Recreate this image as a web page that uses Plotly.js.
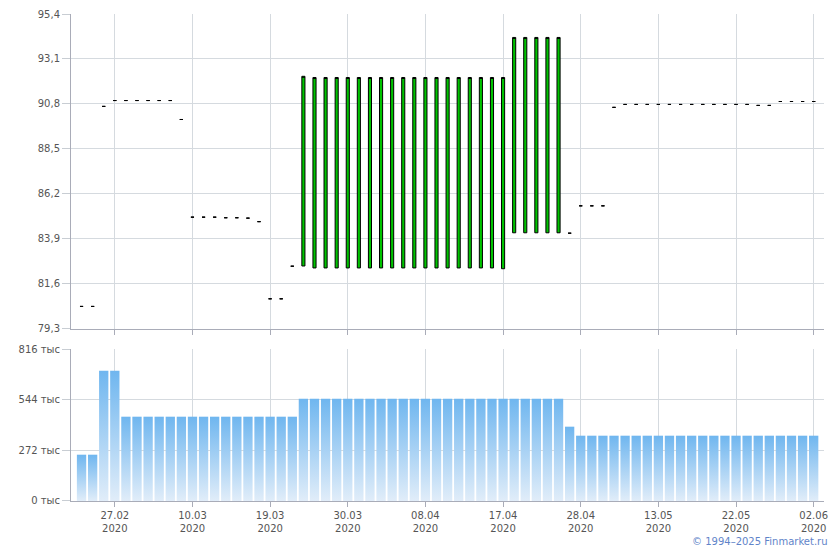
<!DOCTYPE html>
<html>
<head>
<meta charset="utf-8">
<script src="https://cdn.plot.ly/plotly-3.0.1.min.js"></script>
<style>html,body{margin:0;padding:0;background:#fff;}#chart{width:840px;height:550px;}</style>
</head>
<body>
<div id="chart"></div>
<script>
var dates = ["21.02.2020","25.02.2020","26.02.2020","27.02.2020","28.02.2020",
"02.03.2020","03.03.2020","04.03.2020","05.03.2020","06.03.2020","10.03.2020","11.03.2020","12.03.2020","13.03.2020",
"16.03.2020","17.03.2020","18.03.2020","19.03.2020","20.03.2020","23.03.2020","24.03.2020","25.03.2020","26.03.2020",
"27.03.2020","30.03.2020","31.03.2020","01.04.2020","02.04.2020","03.04.2020","06.04.2020","07.04.2020","08.04.2020",
"09.04.2020","10.04.2020","13.04.2020","14.04.2020","15.04.2020","16.04.2020","17.04.2020","20.04.2020","21.04.2020",
"22.04.2020","23.04.2020","24.04.2020","27.04.2020","28.04.2020","29.04.2020","30.04.2020","06.05.2020","07.05.2020",
"08.05.2020","12.05.2020","13.05.2020","14.05.2020","15.05.2020","18.05.2020","19.05.2020","20.05.2020","21.05.2020",
"22.05.2020","25.05.2020","26.05.2020","27.05.2020","28.05.2020","29.05.2020","01.06.2020","02.06.2020"];

var openP = [80.43,80.43,90.67,90.97,90.97,90.97,90.97,90.97,90.97,90.0,85.0,85.0,85.0,84.97,84.97,84.95,84.77,80.82,80.82,82.49,
82.5,82.4,82.4,82.4,82.4,82.4,82.4,82.4,82.4,82.4,82.4,82.4,82.4,82.4,82.4,82.4,82.4,82.4,82.36,
84.2,84.2,84.2,84.2,84.2,84.18,85.58,85.58,85.58,90.62,
90.77,90.77,90.77,90.77,90.77,90.77,90.77,90.77,90.77,90.77,90.77,90.77,90.72,90.72,90.92,90.92,90.92,90.92];
var closeP = [80.43,80.43,90.67,90.97,90.97,90.97,90.97,90.97,90.97,90.0,85.0,85.0,85.0,84.97,84.97,84.95,84.77,80.82,80.82,82.49,
92.21,92.15,92.15,92.15,92.15,92.15,92.15,92.15,92.15,92.15,92.15,92.15,92.15,92.15,92.15,92.15,92.15,92.15,92.15,
94.2,94.2,94.2,94.2,94.2,84.18,85.58,85.58,85.58,90.62,
90.77,90.77,90.77,90.77,90.77,90.77,90.77,90.77,90.77,90.77,90.77,90.77,90.72,90.72,90.92,90.92,90.92,90.92];
var highP = closeP.slice();
var lowP = openP.slice();

var volume = [248600,248600,699500,699500,
452600,452600,452600,452600,452600,452600,452600,452600,452600,452600,452600,452600,452600,452600,452600,452600,
549000,549000,549000,549000,549000,549000,549000,549000,549000,549000,549000,549000,549000,549000,549000,549000,
549000,549000,549000,549000,549000,549000,549000,549000,
399000,
350600,350600,350600,350600,350600,350600,350600,350600,350600,350600,350600,350600,350600,350600,350600,350600,
350600,350600,350600,350600,350600,350600];

var tickDates = ["27.02.2020","10.03.2020","19.03.2020","30.03.2020","08.04.2020","17.04.2020","28.04.2020","13.05.2020","22.05.2020","02.06.2020"];
var tickLabels = ["27.02<br>2020","10.03<br>2020","19.03<br>2020","30.03<br>2020","08.04<br>2020","17.04<br>2020","28.04<br>2020","13.05<br>2020","22.05<br>2020","02.06<br>2020"];
var priceTicks = [79.3,81.6,83.9,86.2,88.5,90.8,93.1,95.4];
var priceTickText = ["79,3","81,6","83,9","86,2","88,5","90,8","93,1","95,4"];
var volTicks = [0,272000,544000,816000];
var volTickText = ["0 тыс","272 тыс","544 тыс","816 тыс"];

var gridC = '#d5dadf', axisC = '#a9acb8';

var candle = {
  type: 'candlestick', x: dates, open: openP, high: highP, low: lowP, close: closeP,
  xaxis: 'x', yaxis: 'y', whiskerwidth: 0,
  increasing: {line: {color: '#000', width: 1}, fillcolor: '#00c400'},
  decreasing: {line: {color: '#000', width: 1}, fillcolor: '#00c400'},
  hoverinfo: 'skip', showlegend: false
};
var vol = {
  type: 'bar', x: dates, y: volume, xaxis: 'x2', yaxis: 'y2',
  marker: {color: '#8ec4f2', line: {width: 0}}, hoverinfo: 'skip', showlegend: false
};

var xcommon = {
  type: 'category', range: [-0.95, 66.93], tickmode: 'array', tickvals: tickDates, ticktext: tickLabels,
  showgrid: true, gridcolor: gridC, gridwidth: 1, showline: true, linecolor: axisC, linewidth: 1,
  ticks: 'outside', ticklen: 5, tickcolor: axisC, fixedrange: true, zeroline: false
};

var layout = {
  width: 840, height: 550,
  margin: {l: 71, r: 16, t: 14, b: 49},
  paper_bgcolor: '#fff', plot_bgcolor: '#fff',
  font: {family: 'DejaVu Sans, Verdana, sans-serif', size: 10, color: '#555'},
  boxgap: 0.72, boxgroupgap: 0, bargap: 0.16,
  showlegend: false,
  xaxis: Object.assign({}, xcommon, {anchor: 'y', showticklabels: false, rangeslider: {visible: false}}),
  xaxis2: Object.assign({}, xcommon, {anchor: 'y2', matches: 'x', showticklabels: true, rangeslider: {visible: false}}),
  yaxis: {
    domain: [0.3542, 1], range: [79.3, 95.4], tickmode: 'array', tickvals: priceTicks, ticktext: priceTickText,
    showgrid: true, gridcolor: gridC, showline: true, linecolor: axisC, ticks: 'outside', ticklen: 8,
    tickcolor: '#c8cdd3', zeroline: false, fixedrange: true
  },
  yaxis2: {
    domain: [0, 0.3121], range: [0, 816000], tickmode: 'array', tickvals: volTicks, ticktext: volTickText,
    showgrid: true, gridcolor: gridC, showline: true, linecolor: axisC, ticks: 'outside', ticklen: 8,
    tickcolor: '#c8cdd3', zeroline: false, fixedrange: true
  },
  annotations: [{
    text: '© 1994–2025 Finmarket.ru', xref: 'paper', yref: 'paper', x: 1.008, y: -0.084,
    xanchor: 'right', yanchor: 'middle', showarrow: false,
    font: {family: 'DejaVu Sans, Verdana, sans-serif', size: 10, color: '#5f84c9'}
  }]
};

Plotly.newPlot('chart', [candle, vol], layout, {staticPlot: true, displayModeBar: false}).then(function (gd) {
  var ns = 'http://www.w3.org/2000/svg';
  var svg = gd.querySelector('svg.main-svg');
  var defs = svg.querySelector('defs');
  var lg = document.createElementNS(ns, 'linearGradient');
  lg.setAttribute('id', 'volGrad');
  lg.setAttribute('x1', '0'); lg.setAttribute('y1', '0');
  lg.setAttribute('x2', '0'); lg.setAttribute('y2', '1');
  [['0', '#6fb6ef'], ['1', '#e1edf9']].forEach(function (s) {
    var st = document.createElementNS(ns, 'stop');
    st.setAttribute('offset', s[0]); st.setAttribute('stop-color', s[1]);
    lg.appendChild(st);
  });
  defs.appendChild(lg);
  gd.querySelectorAll('.bars .point path').forEach(function (p) {
    p.style.fill = 'url(#volGrad)';
  });
});
</script>
</body>
</html>
